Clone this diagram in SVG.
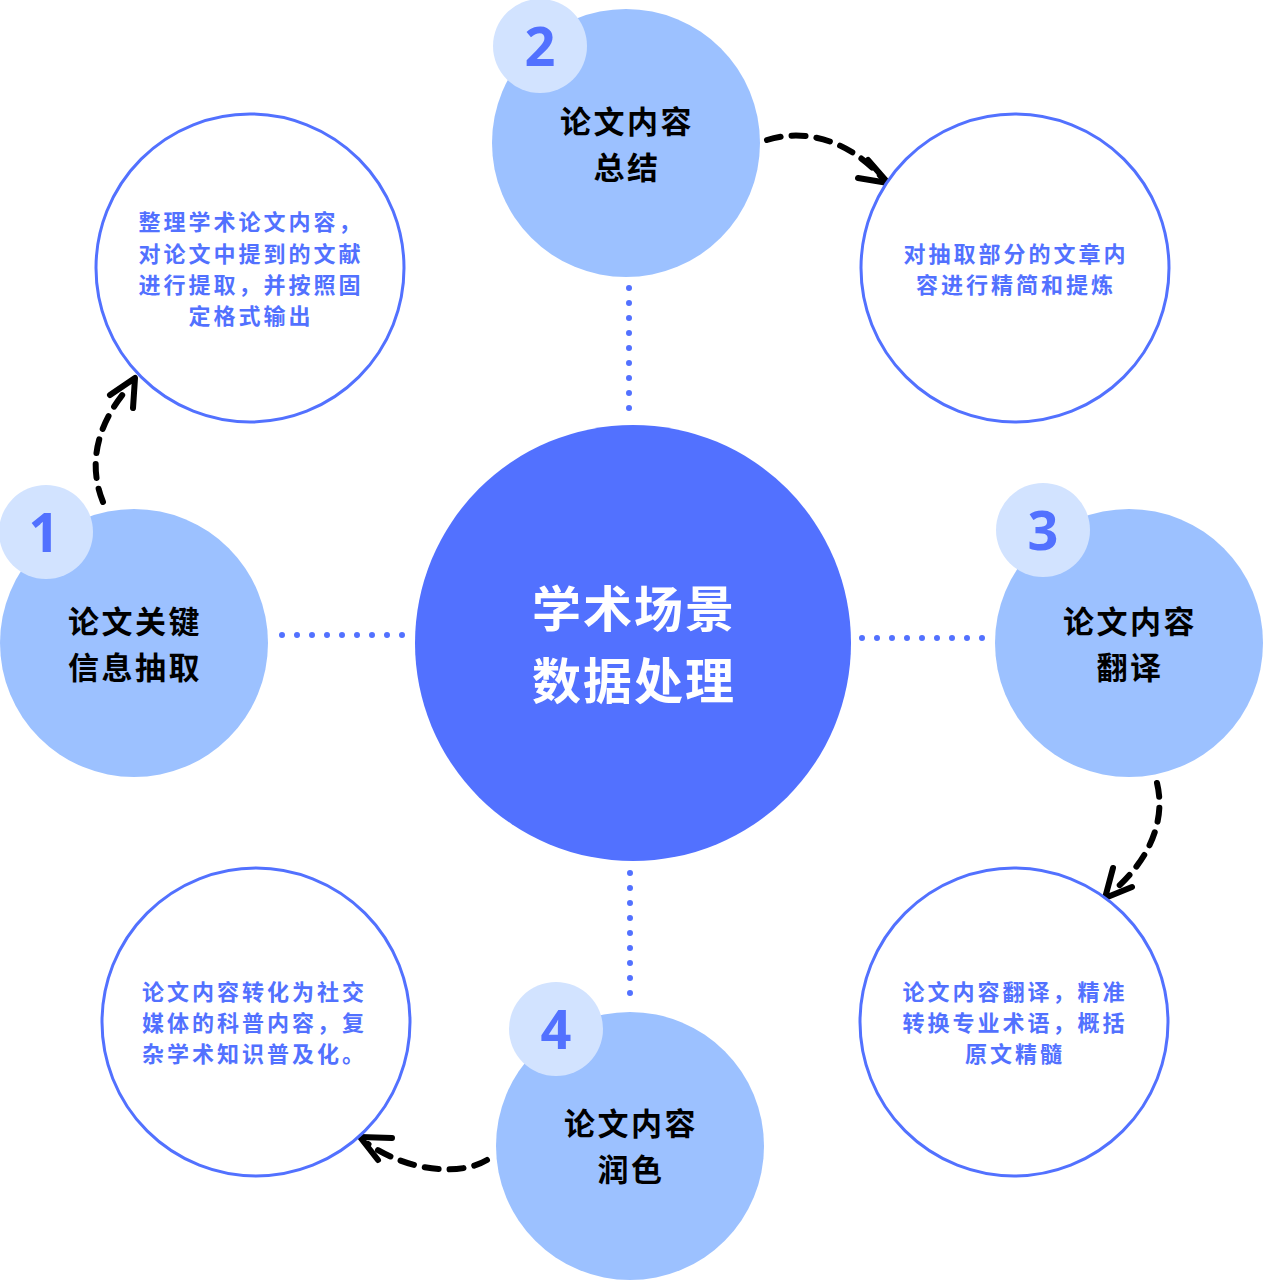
<svg xmlns="http://www.w3.org/2000/svg" width="1264" height="1280" viewBox="0 0 1264 1280">
<style>
.main{fill:#9cc1ff}
.badge{fill:#d2e3ff}
.outline{fill:#ffffff;stroke:#5271ff;stroke-width:3}
.num{font-family:"Open Sans","Liberation Sans",sans-serif;font-size:54px;font-weight:700;fill:#5271ff;text-anchor:middle}
.lbl{font-family:"Noto Sans CJK SC",sans-serif;font-size:31px;font-weight:700;fill:#000;text-anchor:middle;letter-spacing:2.5px}
.desc{font-family:"Noto Sans CJK SC",sans-serif;font-size:22px;font-weight:700;fill:#5271ff;letter-spacing:3px}
.c{text-anchor:middle}
.ctr{font-family:"Noto Sans CJK SC",sans-serif;font-size:49px;font-weight:700;fill:#fff;text-anchor:middle;letter-spacing:2px}
.dots{stroke:#5271ff;stroke-width:6;stroke-linecap:round;stroke-dasharray:0 15;fill:none}
.arr{stroke:#000;stroke-width:6;fill:none;stroke-linecap:round;stroke-linejoin:round}
.dash{stroke-dasharray:14 11}
</style>
<rect width="1264" height="1280" fill="#fff"/>
<g id="connectors">
<line class="dots" x1="629" y1="288" x2="629" y2="410"/>
<line class="dots" x1="282" y1="635" x2="403" y2="635"/>
<line class="dots" x1="862" y1="638" x2="985" y2="638"/>
<line class="dots" x1="630" y1="873" x2="630" y2="995"/>
<path class="arr dash" d="M103,502 C90,470 92,430 128,388"/>
<path class="arr" d="M110,395 L135,378 L133,408"/>
<path class="arr dash" d="M767,140 C805,128 850,140 884,180"/>
<path class="arr" d="M858,178 L888,183 L868,160"/>
<path class="arr dash" d="M1157,783 C1166,820 1150,860 1112,892"/>
<path class="arr" d="M1113,868 L1105,898 L1132,887"/>
<path class="arr dash" d="M487,1160 C460,1176 410,1172 368,1144"/>
<path class="arr" d="M392,1138 L360,1137 L378,1160"/>
</g>
<g id="center">
<circle cx="633" cy="643" r="218" fill="#5271ff"/>
<text class="ctr" x="634" y="627">学术场景</text>
<text class="ctr" x="634" y="699">数据处理</text>
</g>
<g id="node1">
<circle class="main" cx="134" cy="643" r="134"/>
<circle class="badge" cx="46" cy="532" r="47"/>
<text class="num" x="44" y="552">1</text>
<text class="lbl" x="135" y="633">论文关键</text>
<text class="lbl" x="135" y="679">信息抽取</text>
</g>
<g id="node2">
<circle class="main" cx="626" cy="143" r="134"/>
<circle class="badge" cx="540" cy="46" r="47"/>
<text class="num" x="540" y="66">2</text>
<text class="lbl" x="627" y="133">论文内容</text>
<text class="lbl" x="627" y="179">总结</text>
</g>
<g id="node3">
<circle class="main" cx="1129" cy="643" r="134"/>
<circle class="badge" cx="1043" cy="530" r="47"/>
<text class="num" x="1043" y="550">3</text>
<text class="lbl" x="1130" y="633">论文内容</text>
<text class="lbl" x="1130" y="679">翻译</text>
</g>
<g id="node4">
<circle class="main" cx="630" cy="1146" r="134"/>
<circle class="badge" cx="556" cy="1029" r="47"/>
<text class="num" x="556" y="1049">4</text>
<text class="lbl" x="631" y="1135">论文内容</text>
<text class="lbl" x="631" y="1181">润色</text>
</g>
<g id="desc1">
<circle class="outline" cx="250" cy="268" r="154"/>
<text class="desc c" x="251" y="230">整理学术论文内容，</text>
<text class="desc c" x="251" y="262">对论文中提到的文献</text>
<text class="desc c" x="251" y="293">进行提取，并按照固</text>
<text class="desc c" x="251" y="324">定格式输出</text>
</g>
<g id="desc2">
<circle class="outline" cx="1015" cy="268" r="154"/>
<text class="desc c" x="1016" y="262">对抽取部分的文章内</text>
<text class="desc c" x="1016" y="293">容进行精简和提炼</text>
</g>
<g id="desc3">
<circle class="outline" cx="1014" cy="1022" r="154"/>
<text class="desc c" x="1015" y="1000">论文内容翻译，精准</text>
<text class="desc c" x="1015" y="1031">转换专业术语，概括</text>
<text class="desc c" x="1015" y="1062">原文精髓</text>
</g>
<g id="desc4">
<circle class="outline" cx="256" cy="1022" r="154"/>
<text class="desc" x="142" y="1000">论文内容转化为社交</text>
<text class="desc" x="142" y="1031">媒体的科普内容，复</text>
<text class="desc" x="142" y="1062">杂学术知识普及化。</text>
</g>
</svg>
